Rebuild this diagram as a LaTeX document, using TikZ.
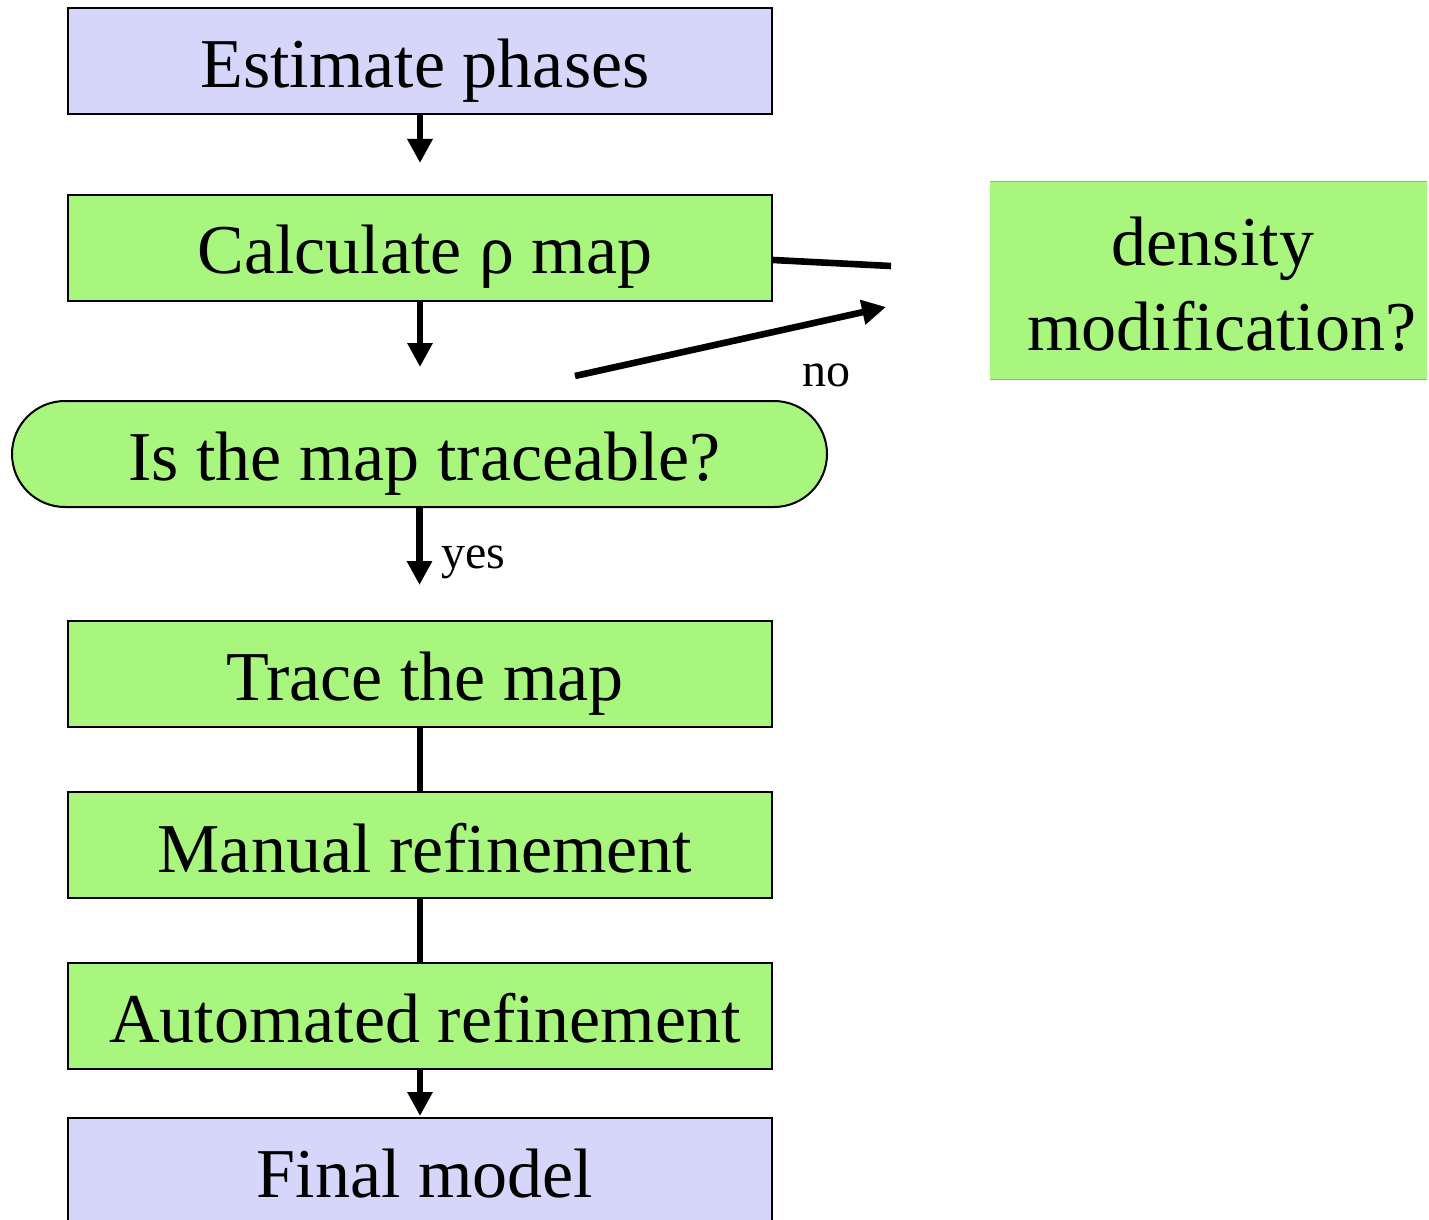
\documentclass[tikz,border=0pt]{standalone}
\usepackage{fontspec}
\setmainfont{Liberation Serif}
\usetikzlibrary{arrows.meta}
\definecolor{boxgreen}{RGB}{168,246,126}
\definecolor{boxlav}{RGB}{214,214,251}
\tikzset{
  stepbox/.style={draw=black, line width=1pt, fill=boxgreen, minimum width=352pt,
    minimum height=53pt, inner sep=0pt, text height=26pt, text depth=0pt,
    font=\fontsize{35}{42}\selectfont, execute at begin node={\hspace{5pt}}},
  endbox/.style={stepbox, fill=boxlav},
  flow/.style={line width=3.3pt, -{Triangle[width=12pt,length=12pt]}},
  link/.style={line width=3.3pt},
  lbl/.style={font=\fontsize{24}{28}\selectfont, inner sep=0pt}
}
\begin{document}
\begin{tikzpicture}[x=0.5pt, y=-0.5pt]
\path[use as bounding box] (0,0) rectangle (1429,1220);

% main flow
\node[endbox, text height=27pt] (est) at (420,61) {Estimate phases};
\node[stepbox, text height=25pt] (calc) at (420,248) {Calculate ρ map};
\node[stepbox, minimum width=407.5pt, rounded corners=26.5pt] (trace?) at (419.5,454) {Is the map traceable?};
\node[stepbox] (tr) at (420,674) {Trace the map};
\node[stepbox, text height=27pt] (man) at (420,845) {Manual refinement};
\node[stepbox] (auto) at (420,1016) {Automated refinement};
\node[endbox] (fin) at (420,1171) {Final model};

% side box with its two-line label
\node[fill=boxgreen, minimum width=218.5pt, minimum height=98.5pt, inner sep=0pt] (dm) at (1208.5,280.5) {};
\draw[gray!70, line width=0.6pt] (dm.north west) -- (dm.north east);
\draw[gray!70, line width=0.6pt] (dm.south west) -- (dm.south east);
\node[align=center, inner sep=0pt, font=\fontsize{35}{42.5}\selectfont] (dmtext) at (1213,284)
  {density\\ \ modification?};

% arrow ends
\coordinate (e1) at (420,163);
\coordinate (e2) at (420,367);
\coordinate (e3) at (419.5,585);
\coordinate (e4) at (420,1116);
\coordinate (c1) at (891,266);
\coordinate (n0) at (575,376);
\coordinate (n1) at (886,307);

\draw[flow] (est.south) -- (e1);
\draw[flow] (calc.south) -- (e2);
\draw[flow] (trace?.south) -- (e3);
\draw[link] (tr.south) -- (man.north);
\draw[link] (man.south) -- (auto.north);
\draw[flow] (auto.south) -- (e4);
\draw[link] (calc.east |- 0,260) -- (c1);
\draw[flow] (n0) -- (n1);

\node[lbl, anchor=base west] (yes) at (441,568) {yes};
\node[lbl, anchor=base west] (no) at (802,386) {no};
\end{tikzpicture}
\end{document}
